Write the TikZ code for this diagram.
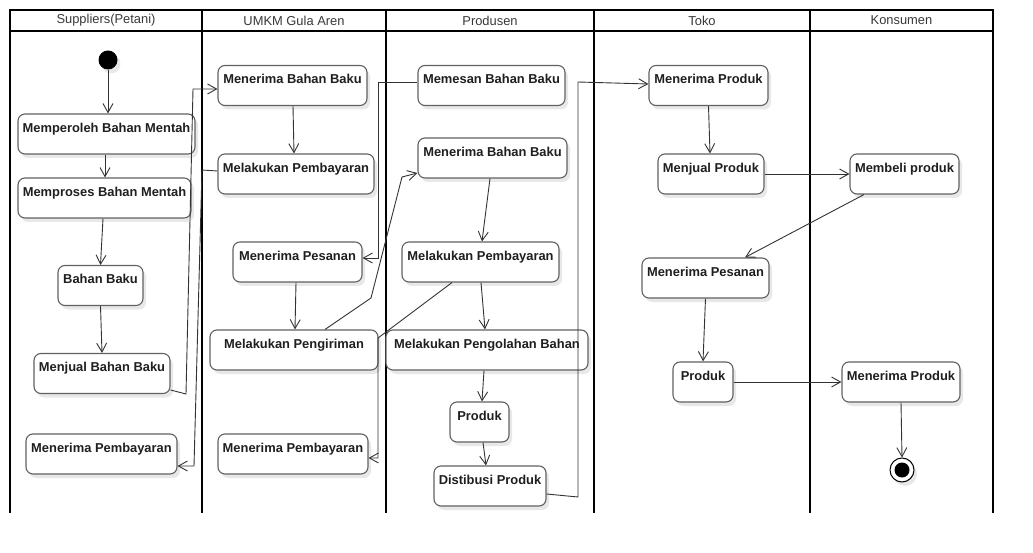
\documentclass[tikz,border=0pt]{standalone}
\usepackage{fontspec}
\setmainfont{Liberation Sans}
\usetikzlibrary{arrows.meta,shadows}
\begin{document}
\begin{tikzpicture}[x=1pt,y=-1pt,
  act/.style={draw=black!62, line width=1.1pt, rounded corners=7pt, fill=white,
    minimum height=40pt, inner sep=0pt,
    drop shadow={shadow xshift=3pt, shadow yshift=-4pt, fill=black!9, opacity=1}},
  lbl/.style={anchor=base, yshift=-19pt, inner sep=0pt, text=black!88,
    font=\fontsize{12.9}{15}\selectfont\bfseries},
  hdr/.style={inner sep=0pt, text=black!78, font=\fontsize{12.9}{15}\selectfont},
  flow/.style={draw=black!80, line width=0.9pt, -{Straight Barb[length=9pt,width=10pt,line width=0.9pt]}},
  lane/.style={line width=2.6pt, line cap=rect},
  hline/.style={line width=2pt}]
\useasboundingbox (0,0) rectangle (1033,553);
% swimlanes
\draw[hline] (10,10) -- (993,10);
\draw[hline] (10,31) -- (993,31);
\foreach \x in {10,202,386,594,810,993} \draw[lane] (\x,10) -- (\x,512);
\node[hdr] (h1) at (106,20.5) {Suppliers(Petani)};
\node[hdr] (h2) at (294,20.5) {UMKM Gula Aren};
\node[hdr] (h3) at (490,20.5) {Produsen};
\node[hdr] (h4) at (702,20.5) {Toko};
\node[hdr] (h5) at (901.5,20.5) {Konsumen};
% Suppliers
\node[circle, fill=black, minimum size=19pt, inner sep=0pt,
  drop shadow={shadow xshift=3pt, shadow yshift=-4pt, fill=black!9, opacity=1}] (s0) at (108,60) {};
\node[act, minimum width=177pt, label={[lbl]north:Memperoleh Bahan Mentah}] (m1) at (106.5,134) {};
\node[act, minimum width=173pt, label={[lbl]north:Memproses Bahan Mentah}] (m2) at (104.5,198) {};
\node[act, minimum width=85pt, label={[lbl]north:Bahan Baku}] (m3) at (100.5,285.5) {};
\node[act, minimum width=136pt, label={[lbl]north:Menjual Bahan Baku}] (m4) at (102,373.5) {};
\node[act, minimum width=151pt, label={[lbl]north:Menerima Pembayaran}] (m5) at (101.5,454) {};
% UMKM
\node[act, minimum width=149pt, label={[lbl]north:Menerima Bahan Baku}] (u1) at (292.5,85.5) {};
\node[act, minimum width=156pt, label={[lbl]north:Melakukan Pembayaran}] (u2) at (296,174) {};
\node[act, minimum width=129pt, label={[lbl]north:Menerima Pesanan}] (u3) at (297.5,262) {};
\node[act, minimum width=168pt, label={[lbl]north:Melakukan Pengiriman}] (u4) at (294,350) {};
\node[act, minimum width=150pt, label={[lbl]north:Menerima Pembayaran}] (u5) at (293,454) {};
% Produsen
\node[act, minimum width=147pt, label={[lbl]north:Memesan Bahan Baku}] (p1) at (491.5,85.5) {};
\node[act, minimum width=149pt, label={[lbl]north:Menerima Bahan Baku}] (p2) at (492.5,158) {};
\node[act, minimum width=157pt, label={[lbl]north:Melakukan Pembayaran}] (p3) at (480.5,262) {};
\node[act, minimum width=202pt, label={[lbl]north:Melakukan Pengolahan Bahan}] (p4) at (487,350) {};
\node[act, minimum width=59pt, label={[lbl]north:Produk}] (p5) at (479.5,422) {};
\node[act, minimum width=112pt, label={[lbl]north:Distibusi Produk}] (p6) at (490,486) {};
% Toko
\node[act, minimum width=119pt, label={[lbl]north:Menerima Produk}] (t1) at (708.5,85.5) {};
\node[act, minimum width=106pt, label={[lbl]north:Menjual Produk}] (t2) at (711,174) {};
\node[act, minimum width=127pt, label={[lbl]north:Menerima Pesanan}] (t3) at (705.5,278) {};
\node[act, minimum width=60pt, label={[lbl]north:Produk}] (t4) at (703,382) {};
% Konsumen
\node[act, minimum width=109pt, label={[lbl]north:Membeli produk}] (k1) at (904.5,174) {};
\node[act, minimum width=118pt, label={[lbl]north:Menerima Produk}] (k2) at (901,382) {};
\node[circle, draw=black, line width=1pt, fill=white, minimum size=24pt, inner sep=0pt,
  drop shadow={shadow xshift=3pt, shadow yshift=-4pt, fill=black!9, opacity=1}] (e0) at (902,470) {};
\fill[black] (e0.center) circle (7.5pt);
% flows
\draw[flow] (s0.south) -- ([xshift=1.5pt]m1.north);
\draw[flow] ([xshift=-1.5pt]m1.south) -- ([xshift=0.5pt]m2.north);
\draw[flow] ([xshift=-1.5pt]m2.south) -- (m3.north);
\draw[flow] (m3.south) -- ([xshift=0pt]m4.north);
\draw[flow] ([yshift=-16.5pt]m4.east) -- (186,394) -- (193,89) -- ([yshift=-3.5pt]u1.west);
\draw[flow] ([yshift=3pt]u2.west) -- (202,170) -- (194,466) -- ([yshift=-12pt]m5.east);
\draw[flow] ([yshift=3.5pt]p1.west) -- (378,82) -- (378,258) -- ([yshift=4pt]u3.east);
\draw[flow] ([xshift=0.5pt]u1.south) -- ([xshift=-2pt]u2.north);
\draw[flow] ([xshift=-1.5pt]u3.south) -- ([xshift=1pt]u4.north);
\draw[flow] ([xshift=31pt]u4.north) -- (371,298) -- (402,177) -- ([yshift=-15pt]p2.west);
\draw[flow] ([xshift=-2.5pt]p2.south) -- ([xshift=1.5pt]p3.north);
\draw[flow] ([xshift=-28.5pt]p3.south) -- (378,338) -- (378,458) -- ([yshift=-4pt]u5.east);
\draw[flow] ([xshift=0.5pt]p3.south) -- ([xshift=-2pt]p4.north);
\draw[flow] ([xshift=-3pt]p4.south) -- ([xshift=2.5pt]p5.north);
\draw[flow] ([xshift=3.5pt]p5.south) -- ([xshift=-4pt]p6.north);
\draw[flow] ([yshift=-8pt]p6.east) -- (578,497) -- (578,82) -- ([yshift=1.5pt]t1.west);
\draw[flow] (t1.south) -- ([xshift=-1pt]t2.north);
\draw[flow] (t2.east) -- (k1.west);
\draw[flow] ([xshift=-40.5pt]k1.south) -- ([xshift=39.5pt]t3.north);
\draw[flow] (t3.south) -- (t4.north);
\draw[flow] (t4.east) -- (k2.west);
\draw[flow] (k2.south) -- (e0.north);
\end{tikzpicture}
\end{document}
